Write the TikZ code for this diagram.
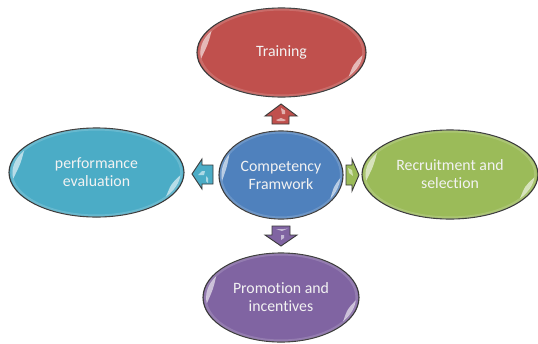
\documentclass[tikz,border=0pt]{standalone}
\usepackage{fontspec}
\setmainfont[RawFeature={-liga}]{Carlito}
\usetikzlibrary{shapes.geometric}
\definecolor{cblue}{HTML}{4F81BD}
\definecolor{cred}{HTML}{C0504D}
\definecolor{cgreen}{HTML}{9BBB59}
\definecolor{cpurple}{HTML}{8064A2}
\definecolor{caqua}{HTML}{4BACC6}
\definecolor{edgegrey}{HTML}{3A3A3A}
\tikzset{
  oval/.style={ellipse,draw=edgegrey,line width=1.1pt,inner sep=0pt,outer sep=0pt,
    text=white!95!black,align=center,font=\fontsize{15.8}{18}\selectfont},
  blockarrow/.style={draw=edgegrey,line width=0.9pt,line join=miter,fill=#1},
  gleam/.style={fill=white,opacity=0.6,draw=none},
  spark/.style={fill=white,opacity=0.55,draw=none},
  rim/.style={draw=white,opacity=0.16,line width=2.4pt,fill=none},
}
% highlights of a glossy oval, in a unit circle scaled to the oval
\newcommand{\gloss}[4]{%
  \begin{scope}[shift={(#1,#2)},xscale=#3,yscale=-#4]
    \draw[rim] (0:0.97) arc[radius=0.97,start angle=0,end angle=360];
    \fill[gleam] (150:.96) arc[radius=.96,start angle=150,end angle=188] .. controls (167:.89) .. cycle;
    \fill[gleam] (-4:.96) arc[radius=.96,start angle=-4,end angle=-34] .. controls (-17:.89) .. cycle;
  \end{scope}}
\begin{document}
\begin{tikzpicture}[x=1pt,y=-1pt]
\useasboundingbox (0,0) rectangle (538,343);
\fill[white] (0,0) rectangle (538,343);

\draw[blockarrow=cred] (281,104) -- (297,116) -- (289,116) -- (289,124) -- (272,124) -- (272,116) -- (265,116) -- cycle;
\draw[blockarrow=cpurple] (281,246) -- (297,235) -- (290,235) -- (290,226) -- (272,226) -- (272,235) -- (265,235) -- cycle;
\draw[blockarrow=caqua] (192,174) -- (202,159) -- (202,165) -- (213,165) -- (213,184) -- (202,184) -- (202,189) -- cycle;
\draw[blockarrow=cgreen] (359,175) -- (352,159) -- (352,165) -- (346,165) -- (346,185) -- (352,185) -- (352,191) -- cycle;

\fill[spark] (281,108) -- (285,110.5) -- (285,114) -- (282,114) -- cycle;
\fill[spark] (276,120) -- (281,118) -- (286,120) -- (284,121) -- (278,121) -- cycle;
\fill[spark] (281,240) -- (284,238) -- (284,235) -- (281,235) -- cycle;
\fill[spark] (276,229) -- (284,229) -- (288,228.5) -- (282,231) -- cycle;
\fill[spark] (198,175) -- (202,171) -- (205,171) -- (204,175) -- cycle;
\fill[spark] (206,176) -- (208,178) -- (208,183) -- (206,181) -- cycle;
\fill[spark] (348,168) -- (352,170) -- (353,176) -- (349,173) -- cycle;

\node[oval,fill=cred,minimum width=169pt,minimum height=89pt] (train) at (281.5,52.5) {\raisebox{-1pt}{Training}};
\node[oval,fill=cblue,minimum width=124pt,minimum height=88pt] (core) at (281,175) {Competency\\Framwork};
\node[oval,fill=caqua,minimum width=175pt,minimum height=89pt] (perf) at (96.5,172.5) {performance\\evaluation};
\node[oval,fill=cgreen,minimum width=176pt,minimum height=89pt] (recruit) at (450,174.5) {Recruitment and\\selection};
\node[oval,fill=cpurple,minimum width=156pt,minimum height=89pt] (promo) at (281,297.5) {Promotion and\\incentives};

\gloss{281.5}{52.5}{84.5}{44.5}
\gloss{281}{175}{62}{44}
\gloss{96.5}{172.5}{87.5}{44.5}
\gloss{450}{174.5}{88}{44.5}
\gloss{281}{297.5}{78}{44.5}
\end{tikzpicture}
\end{document}
